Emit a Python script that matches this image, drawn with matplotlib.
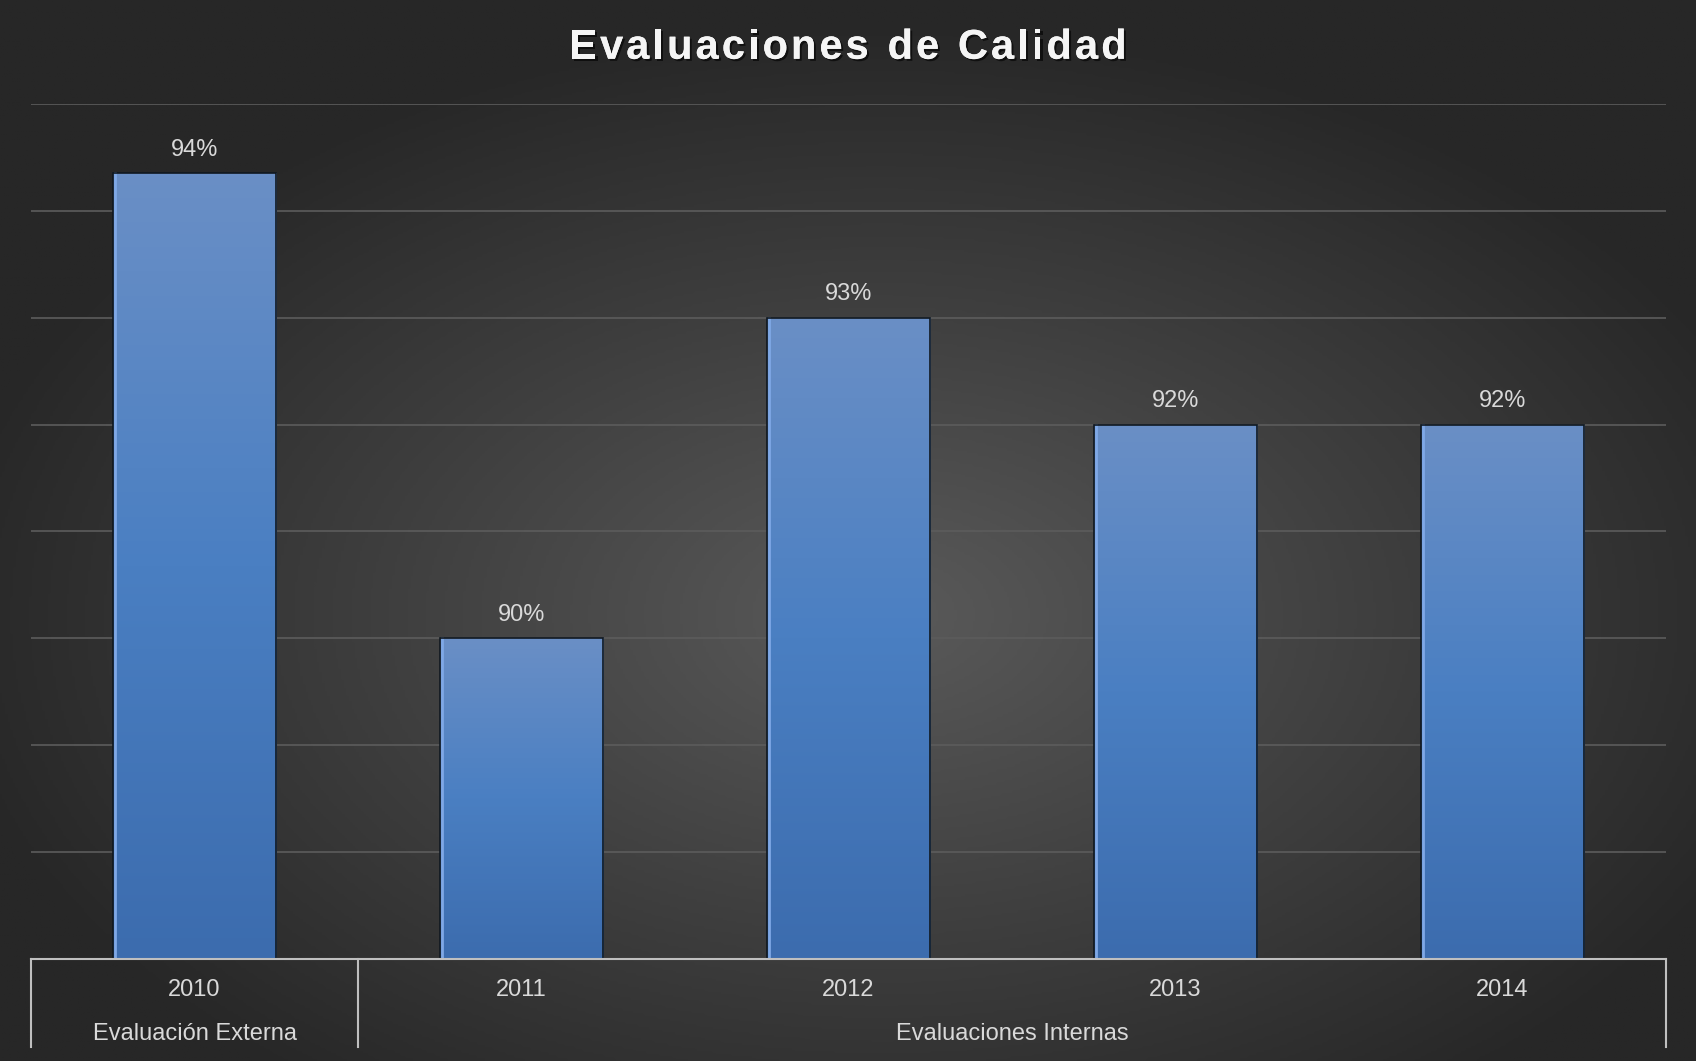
import numpy as np
import matplotlib.pyplot as plt
import matplotlib.patheffects as pe
from matplotlib.colors import LinearSegmentedColormap

years = ['2010', '2011', '2012', '2013', '2014']
values = [94.35, 90.0, 93.0, 92.0, 92.0]
value_labels = ['94%', '90%', '93%', '92%', '92%']
groups = ['Evaluación Externa', 'Evaluaciones Internas']
group_sizes = [1, 4]
title = 'Evaluaciones de Calidad'

plt.rcParams['font.family'] = ['Liberation Sans', 'DejaVu Sans']

fig = plt.figure(figsize=(16.96, 10.61), dpi=100)

# radial background
bg = fig.add_axes([0, 0, 1, 1], zorder=-10)
yy, xx = np.mgrid[0:1:400j, 0:1:640j]
r = np.sqrt(((xx - 0.52) / 0.8) ** 2 + ((yy - 0.58) / 0.8) ** 2)
bg_cmap = LinearSegmentedColormap.from_list('bg', ['#5a5a5a', '#404040', '#272727'])
bg.imshow(r, cmap=bg_cmap, aspect='auto', extent=[0, 1, 0, 1], vmin=0, vmax=0.7)
bg.set_axis_off()

ax = fig.add_axes([0.0183, 0.0961, 0.964, 0.806])
ax.set_facecolor('none')

for g in range(88, 96):
    ax.axhline(g, color='#5c5c5c', lw=1.2, zorder=1)

bar_cmap = LinearSegmentedColormap.from_list('bar', ['#3c6cae', '#4a7fc2', '#6a8fc6'])
grad = np.linspace(0, 1, 256).reshape(-1, 1)
x = np.arange(len(years))
bars = ax.bar(x, np.array(values) - 87, bottom=87, width=0.5,
              facecolor='none', edgecolor='#101820', lw=1.2, zorder=4)
for b, lab in zip(bars, value_labels):
    x0, w, h = b.get_x(), b.get_width(), b.get_height()
    im = ax.imshow(grad, cmap=bar_cmap, origin='lower', aspect='auto',
                   extent=[x0, x0 + w, 87, 87 + h], zorder=3)
    im.set_clip_path(b)
    ax.plot([x0 + 0.006, x0 + 0.006], [87, 87 + h], color='#7fa8e6', lw=2, zorder=3.5)
    ax.annotate(lab, (x0 + w / 2, 87 + h), xytext=(0, 17), textcoords='offset points',
                ha='center', va='center', color='#d9d9d9', fontsize=17)

ax.set_xlim(-0.5, 4.5)
ax.set_ylim(87, 95)
for s in ax.spines.values():
    s.set_visible(False)
ax.set_xticks([])
ax.set_yticks([])

# category axis
line_c = '#bfbfbf'
trans = ax.get_xaxis_transform()
ax.plot([-0.5, 4.5], [0, 0], color=line_c, lw=1.5, transform=trans,
        clip_on=False, zorder=5)
for i, yr in enumerate(years):
    ax.text(i, -0.0365, yr, transform=trans, ha='center', va='center',
            color='#d9d9d9', fontsize=17)
edges = np.concatenate([[0], np.cumsum(group_sizes)]) - 0.5
for e in edges:
    ax.plot([e, e], [0, -0.103], color=line_c, lw=1.5, transform=trans, clip_on=False)
for g, a, b in zip(groups, edges[:-1], edges[1:]):
    ax.text((a + b) / 2, -0.088, g, transform=trans, ha='center', va='center',
            color='#d9d9d9', fontsize=17)

# title with letter spacing, drawn char by char
renderer = fig.canvas.get_renderer()
spacing = 3.0
fx = fig.get_figwidth() * fig.dpi
tstyle = dict(color='#f5f5f5', fontsize=30, fontweight='bold', va='center', ha='left',
              path_effects=[pe.withSimplePatchShadow(offset=(1.5, -1.5), shadow_rgbFace='black', alpha=0.6),
                            pe.Normal()])
widths = []
for ch in title:
    t = fig.text(0, 0, ch if ch != ' ' else 'n', **tstyle)
    wch = t.get_window_extent(renderer).width
    if ch == ' ':
        wch *= 0.5
    widths.append(wch)
    t.remove()
total = sum(widths) + spacing * (len(title) - 1)
cx = fx / 2 - total / 2
for ch, wch in zip(title, widths):
    if ch != ' ':
        fig.text(cx / fx, 0.955, ch, **tstyle)
    cx += wch + spacing

fig.savefig('out.png', dpi=100)
